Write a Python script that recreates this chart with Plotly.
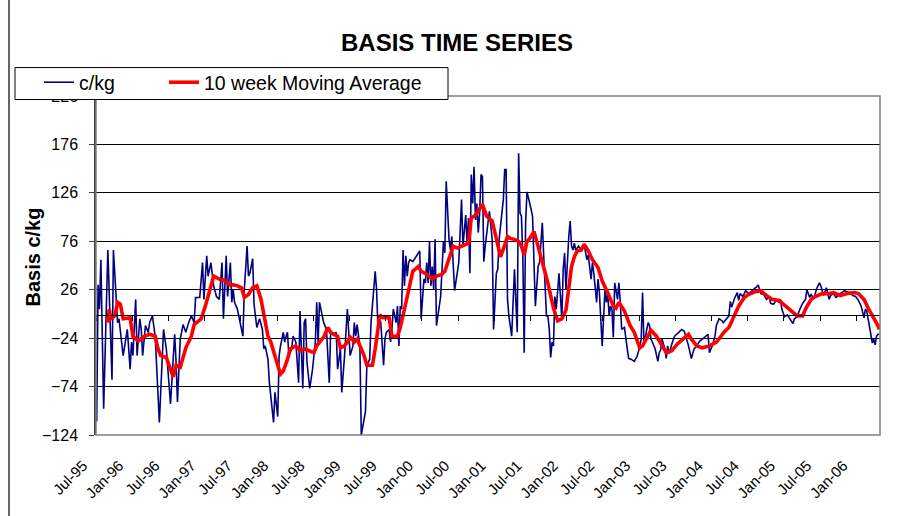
import plotly.graph_objects as go

# ---------------- data ----------------
N_WEEKS = 563
WEEKS_PER_LABEL = 26
X_LABELS = ["Jul-95", "Jan-96", "Jul-96", "Jan-97", "Jul-97", "Jan-98", "Jul-98",
            "Jan-99", "Jul-99", "Jan-00", "Jul-00", "Jan-01", "Jul-01", "Jan-02",
            "Jul-02", "Jan-03", "Jul-03", "Jan-04", "Jul-04", "Jan-05", "Jul-05", "Jan-06"]
Y_TICKS = [-124, -74, -24, 26, 76, 126, 176, 226]

BLUE_WEEKS = [
    0, 1, 2, 3, 5, 8, 11, 12, 15, 16,
    19, 22, 24, 25, 26, 28, 29, 31, 32, 33,
    35, 37, 38, 40, 42, 45, 48, 50, 53, 56,
    57, 58, 60, 62, 64, 66, 68, 70, 71, 74,
    76, 77, 79, 80, 82, 84, 86, 88, 90, 91,
    93, 94, 96, 97, 98, 99, 101, 104, 105, 106,
    108, 109, 110, 112, 113, 115, 117, 119, 120, 121,
    123, 124, 127, 128, 130, 131, 132, 134, 135, 136,
    137, 138, 140, 141, 143, 144, 145, 146, 148, 149,
    150, 151, 153, 155, 157, 158, 159, 160, 162, 163,
    165, 167, 168, 170, 172, 173, 175, 176, 178, 179,
    180, 182, 184, 185, 186, 187, 189, 190, 191, 193,
    194, 196, 197, 198, 200, 201, 202, 203, 204, 206,
    207, 208, 210, 211, 212, 213, 215, 216, 217, 218,
    219, 220, 221, 222, 223, 224, 225, 227, 230, 232,
    233, 235, 236, 237, 238, 239, 240, 241, 242, 243,
    244, 247, 249, 250, 251, 253, 254, 255, 257, 260,
    262, 263, 265, 266, 267, 268, 269, 270, 271, 272,
    273, 274, 275, 276, 277, 278, 279, 281, 282, 284,
    285, 287, 288, 289, 291, 292, 293, 294, 295, 296,
    298, 300, 302, 303, 304, 305, 306, 307, 308, 309,
    311, 313, 315, 317, 318, 320, 321, 323, 324, 325,
    326, 327, 328, 329, 330, 332, 334, 335, 336, 337,
    339, 340, 341, 342, 343, 344, 346, 348, 350, 352,
    353, 354, 355, 356, 357, 359, 360, 361, 362, 363,
    365, 366, 367, 368, 369, 370, 371, 372, 374, 375,
    376, 377, 379, 380, 381, 382, 384, 386, 388, 390,
    391, 392, 393, 395, 396, 397, 398, 399, 401, 403,
    404, 405, 406, 408, 409, 410, 411, 413, 415, 418,
    420, 422, 423, 425, 427, 429, 431, 433, 435, 437,
    439, 440, 442, 444, 445, 447, 449, 450, 452, 454,
    455, 456, 458, 460, 461, 462, 464, 466, 468, 470,
    472, 474, 475, 477, 479, 481, 483, 484, 486, 488,
    490, 491, 492, 494, 496, 498, 500, 501, 503, 505,
    507, 509, 510, 512, 513, 515, 517, 519, 520, 522,
    524, 526, 527, 529, 531, 533, 535, 537, 539, 541,
    543, 545, 547, 549, 551, 552, 553, 555, 556, 557,
    558, 559, 560, 561, 562,
]
BLUE_VALUES = [
    -110, 31, 6, 57, -97, 67, -67, 67, -8, -4,
    -42, -15, -56, -28, -42, 16, -42, -4, -15, -42,
    -11, -18, -8, -1, -22, -111, -15, -35, -92, -20,
    -49, -90, -25, -10, -18, -8, -1, -8, 18, 18,
    54, 16, 61, 40, 54, 30, 19, 16, 54, -4,
    61, 19, 54, 13, 26, 13, 6, -15, -22, 26,
    71, 40, 43, 58, 11, -13, -4, -15, -35, -32,
    -46, -70, -111, -80, -105, -42, -32, -18, -28, -22,
    -18, -42, -35, -22, -28, -49, -70, 4, -76, -8,
    -4, -49, -76, -56, -28, 13, -28, 13, -4, -8,
    -15, -70, -18, -20, -18, -56, -35, -80, -42, -22,
    6, -42, -32, -8, -22, -10, -32, -124, -117, -100,
    -52, -46, -8, 13, 45, 26, -15, -1, -8, -52,
    -25, -18, -15, -28, -15, 6, -8, 9, -32, 9,
    6, 67, 30, 61, 40, 54, 57, 55, 61, 66,
    -4, 37, 33, 54, 33, 76, 30, 50, 26, 78,
    -11, 19, 76, 64, 138, 78, 67, 81, 25, 54,
    119, 71, 103, 74, 100, 43, 145, 115, 153, 98,
    115, 85, 105, 145, 143, 55, 71, 98, 107, 78,
    -15, 43, 47, 78, 102, 119, 150, 150, 16, -1,
    -22, 47, -18, 167, 105, 102, 61, -39, 95, 127,
    115, 102, 9, 50, 54, 95, 61, -1, -1, -15,
    -44, -28, -32, 19, 6, 43, -4, 47, 64, 26,
    81, 97, 71, 67, 74, 67, 71, 67, 73, 57,
    62, 50, 37, 54, 43, 13, 37, 23, -1, -32,
    26, 13, 23, -1, 9, 6, -23, 33, 16, 33,
    13, -15, -13, -28, -35, -45, -46, -48, -43, -33,
    -25, 23, -30, -15, -8, -11, -25, -28, -35, -48,
    -39, -36, -25, -35, -45, -32, -40, -30, -22, -18,
    -15, -17, -22, -32, -45, -35, -32, -27, -25, -22,
    -20, -39, -32, -22, -11, -4, -6, -8, -4, -1,
    14, 8, 17, 23, 15, 22, 19, 25, 22, 24,
    27, 29, 31, 22, 21, 16, 18, 12, 11, 15,
    13, 16, 6, -2, 0, -5, -9, -4, -2, 6,
    12, 16, 26, 18, 21, 17, 27, 33, 30, 20,
    28, 16, 20, 22, 18, 21, 23, 25, 24, 23,
    20, 19, 15, 9, -3, 6, 4, -12, -22, -29,
    -25, -31, -22, -20, -20,
]

MA_WEEKS = [
    8, 9, 10, 13, 15, 17, 19, 22, 24, 26,
    30, 33, 38, 42, 44, 46, 50, 52, 55, 57,
    60, 64, 68, 70, 74, 75, 78, 81, 84, 88,
    93, 95, 98, 101, 104, 106, 109, 112, 115, 118,
    120, 123, 125, 127, 130, 132, 134, 137, 139, 143,
    146, 149, 152, 156, 158, 161, 163, 166, 168, 170,
    173, 175, 178, 180, 182, 185, 187, 190, 192, 194,
    198, 200, 203, 204, 206, 210, 212, 216, 218, 221,
    223, 225, 227, 231, 233, 237, 241, 244, 248, 250,
    253, 256, 259, 262, 265, 267, 269, 272, 277, 280,
    284, 287, 290, 293, 295, 297, 300, 303, 305, 307,
    309, 311, 314, 316, 318, 320, 322, 324, 326, 328,
    331, 334, 337, 339, 341, 343, 345, 348, 350, 353,
    356, 360, 363, 367, 371, 373, 375, 379, 383, 386,
    390, 392, 396, 398, 402, 405, 409, 413, 417, 421,
    425, 427, 431, 435, 440, 445, 448, 451, 454, 458,
    461, 465, 468, 473, 477, 480, 485, 490, 495, 500,
    503, 507, 509, 513, 516, 521, 526, 529, 534, 539,
    544, 547, 551, 554, 558, 561, 562,
]
MA_VALUES = [
    -8, 6, -4, -1, 13, 11, -4, -3, -3, -22,
    -27, -23, -20, -22, -35, -42, -44, -52, -64, -52,
    -54, -34, -22, -10, -6, -4, 9, 26, 40, 37,
    35, 31, 31, 30, 28, 18, 21, 28, 30, 16,
    -1, -22, -28, -39, -52, -61, -58, -46, -35, -32,
    -37, -35, -37, -39, -32, -27, -23, -13, -18, -20,
    -22, -34, -32, -28, -23, -28, -25, -35, -42, -52,
    -52, -35, -4, -1, -3, -3, -22, -22, -13, 6,
    20, 33, 45, 50, 45, 42, 37, 40, 42, 45,
    59, 71, 69, 71, 73, 74, 100, 103, 114, 102,
    97, 78, 60, 72, 81, 79, 78, 76, 71, 62,
    76, 79, 86, 76, 66, 55, 45, 33, 20, 7,
    -6, -4, 5, 30, 50, 60, 66, 67, 73, 66,
    57, 49, 35, 23, 9, 7, 13, 4, -11, -18,
    -34, -32, -22, -16, -22, -30, -39, -37, -30, -25,
    -20, -25, -32, -34, -32, -28, -22, -17, -13, -1,
    9, 18, 21, 24, 25, 21, 16, 15, 9, 2,
    -1, -1, 6, 16, 19, 22, 22, 23, 20, 22,
    23, 22, 16, 7, -3, -11, -15,
]

# ---------------- figure ----------------
W, H = 898, 516
L, R, T, B = 96, 18, 95.5, 80.5
PW, PH = W - L - R, H - T - B


def px_x(p):  # pixel x -> paper
    return (p - L) / PW


def px_y(p):  # pixel y -> paper
    return (H - B - p) / PH


tickvals = [i * WEEKS_PER_LABEL - 0.5 for i in range(len(X_LABELS))]
xrange_ = [-0.5, N_WEEKS - 0.5]
yrange_ = [Y_TICKS[0], Y_TICKS[-1]]
FONT = "Liberation Sans, Arial, sans-serif"

fig = go.Figure()
fig.add_trace(go.Scatter(
    x=BLUE_WEEKS, y=BLUE_VALUES, mode="lines", name="c/kg",
    line=dict(color="#000080", width=1.6), legend="legend"))
fig.add_trace(go.Scatter(
    x=MA_WEEKS, y=MA_VALUES, mode="lines", name="10 week Moving Average",
    line=dict(color="#FF0000", width=3.6), legend="legend2"))
# carrier for the category axis drawn through zero
fig.add_trace(go.Scatter(x=[], y=[], xaxis="x2", showlegend=False, hoverinfo="skip"))

zero_pos = (0 - yrange_[0]) / (yrange_[1] - yrange_[0])

fig.update_layout(
    width=W, height=H,
    margin=dict(l=L, r=R, t=T, b=B, autoexpand=False),
    paper_bgcolor="white", plot_bgcolor="white",
    font=dict(family=FONT, color="black"),
    title=dict(text="<b>BASIS TIME SERIES</b>", x=457 / W, xref="container",
               xanchor="center", y=1 - 43 / H, yref="container", yanchor="middle",
               font=dict(size=24, family=FONT, color="black")),
    xaxis=dict(range=xrange_, tickmode="array", tickvals=tickvals, ticktext=X_LABELS,
               tickangle=-45, showgrid=False, zeroline=False, showline=False,
               ticks="", tickfont=dict(size=15, family=FONT, color="black"),
               ticklabelstandoff=18, ticklabelshift=-13),
    xaxis2=dict(range=xrange_, overlaying="x", anchor="free", position=zero_pos,
                side="bottom", tickmode="array", tickvals=tickvals, ticks="outside",
                ticklen=5, tickwidth=1, tickcolor="black", showticklabels=False,
                showline=True, linecolor="black", linewidth=1, showgrid=False,
                zeroline=False),
    yaxis=dict(range=yrange_, tickmode="array", tickvals=Y_TICKS,
               showgrid=True, gridcolor="black", gridwidth=1, zeroline=False,
               showline=True, linecolor="#404040", linewidth=1.5,
               ticks="outside", ticklen=5, tickcolor="#404040",
               tickfont=dict(size=16, family=FONT, color="black"),
               ticklabelstandoff=8),
    showlegend=True,
    legend=dict(orientation="h", x=px_x(39), xanchor="left", y=px_y(82),
                yanchor="middle", bgcolor="rgba(0,0,0,0)", borderwidth=0,
                font=dict(size=19.5, family=FONT, color="black")),
    legend2=dict(orientation="h", x=px_x(164), xanchor="left", y=px_y(82),
                 yanchor="middle", bgcolor="rgba(0,0,0,0)", borderwidth=0,
                 font=dict(size=19.5, family=FONT, color="black")),
    annotations=[dict(text="<b>Basis c/kg</b>", x=px_x(33.5), y=px_y(257),
                      xref="paper", yref="paper", textangle=-90, showarrow=False,
                      xanchor="center", yanchor="middle",
                      font=dict(size=20, family=FONT, color="black"))],
    shapes=[
        # plot-area frame
        dict(type="rect", xref="paper", yref="paper", x0=0, x1=1, y0=0, y1=1,
             line=dict(color="#808080", width=1.5), layer="above"),
        # legend box
        dict(type="rect", xref="paper", yref="paper", x0=px_x(15), x1=px_x(448),
             y0=px_y(99), y1=px_y(67), line=dict(color="black", width=1),
             fillcolor="white", layer="above"),
        # chart-area border (left edge)
        dict(type="line", xref="paper", yref="paper", x0=px_x(9), x1=px_x(9),
             y0=-0.4, y1=1.4, line=dict(color="#333333", width=1.5), layer="above"),
    ],
)

fig.write_html("out.html",
               config={"displayModeBar": False},
               post_script="document.body.style.margin='0';document.body.style.overflow='hidden';")
